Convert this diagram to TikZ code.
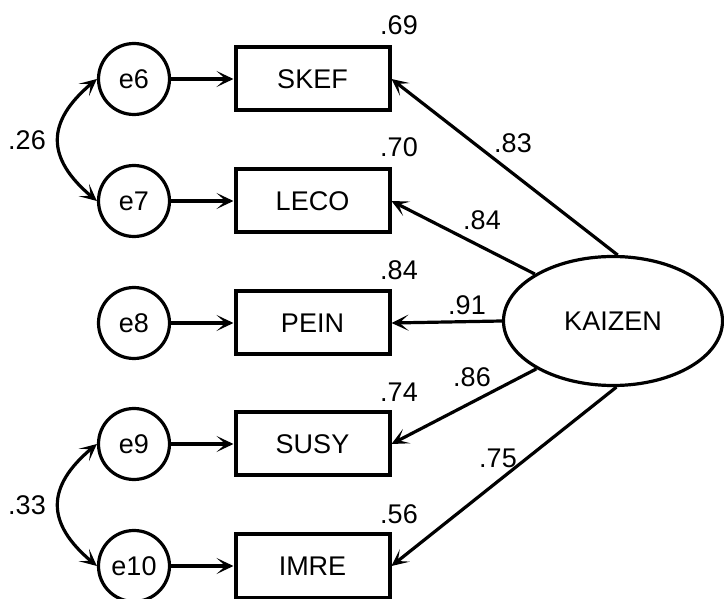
\documentclass[tikz,border=0pt]{standalone}
\usepackage{fontspec}
\setmainfont{Liberation Sans}
\usetikzlibrary{arrows.meta,calc,shapes.geometric}
\begin{document}
\begin{tikzpicture}[x=1pt,y=1pt,
  every node/.style={font=\fontsize{27}{31}\selectfont},
  errc/.style={circle,draw,line width=3.2pt,minimum size=71pt,inner sep=0pt},
  obs/.style={rectangle,draw,line width=4pt,minimum width=154pt,minimum height=63pt,inner sep=0pt},
  lat/.style={ellipse,draw,line width=3.2pt,minimum width=219pt,minimum height=129pt,inner sep=0pt},
  arr/.style={line width=3.2pt,-{Stealth[length=17pt,width=16pt,inset=9pt]}},
  cov/.style={line width=3.2pt,{Stealth[length=17pt,width=16pt,inset=9pt]}-{Stealth[length=17pt,width=16pt,inset=9pt]}},
  lbl/.style={inner sep=0pt}
]
\useasboundingbox (0,0) rectangle (724,598);
% error terms
\node[errc] (e6) at (134,519) {e6};
\node[errc] (e7) at (134,397) {e7};
\node[errc] (e8) at (134,275) {e8};
\node[errc] (e9) at (134,154) {e9};
\node[errc] (e10) at (134,32) {e10};
% observed
\node[obs] (skef) at (312.5,519) {SKEF};
\node[obs] (leco) at (312.5,397) {LECO};
\node[obs] (pein) at (312.5,275) {PEIN};
\node[obs] (susy) at (312.5,154) {SUSY};
\node[obs] (imre) at (312.5,32) {IMRE};
% latent
\node[lat] (k) at (613,277) {KAIZEN};
% error arrows
\draw[arr] (e6) -- (skef);
\draw[arr] (e7) -- (leco);
\draw[arr] (e8) -- (pein);
\draw[arr] (e9) -- (susy);
\draw[arr] (e10) -- (imre);
% loadings
\draw[arr] (k.86.5) -- (skef.east);
\draw[arr] (k.149.5) -- (leco.east);
\draw[arr] (k.west) -- (pein.east);
\draw[arr] (k.212) -- (susy.east);
\draw[arr] (k.273.5) -- (imre.east);
% covariances
\draw[cov] (e6.west) to[out=220,in=140,looseness=1.4] (e7.west);
\draw[cov] (e9.west) to[out=220,in=140,looseness=1.4] (e10.west);
% labels
\node[lbl] (l26) at (27,458) {.26};
\node[lbl] (l33) at (27,93) {.33};
\node[lbl] (r1) at (399,573) {.69};
\node[lbl] (r2) at (399,451) {.70};
\node[lbl] (r3) at (399,328) {.84};
\node[lbl] (r4) at (399,206) {.74};
\node[lbl] (r5) at (399,84) {.56};
\node[lbl] (p1) at (513,455) {.83};
\node[lbl] (p2) at (482,378) {.84};
\node[lbl] (p3) at (467,293) {.91};
\node[lbl] (p4) at (472,221) {.86};
\node[lbl] (p5) at (498,140) {.75};
\end{tikzpicture}
\end{document}
